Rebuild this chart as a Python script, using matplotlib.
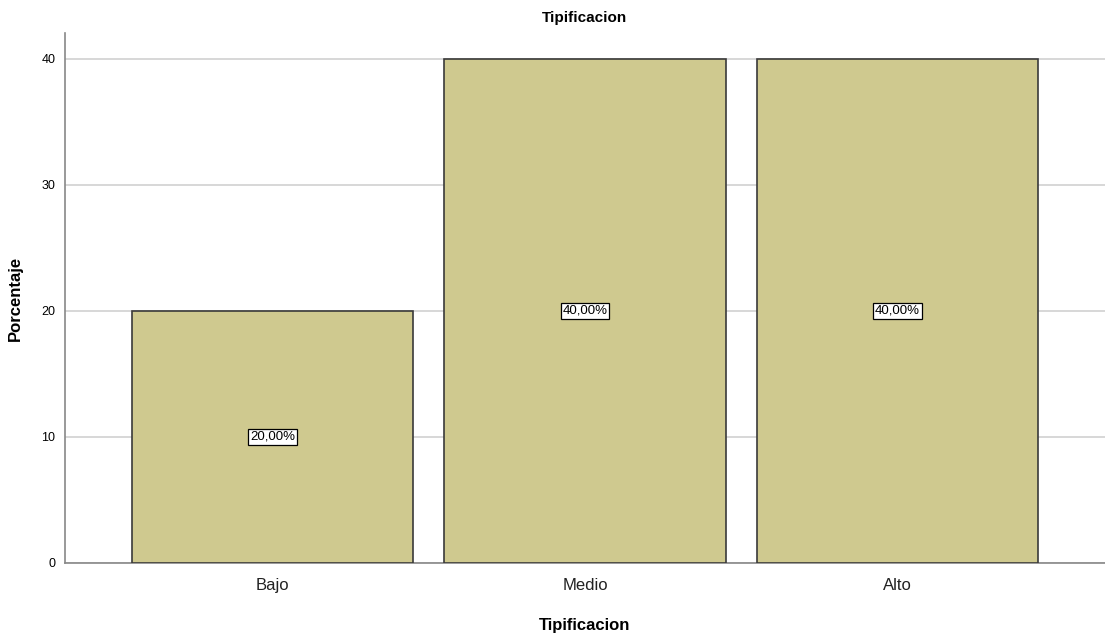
import matplotlib.pyplot as plt

# Data
categories = ['Bajo', 'Medio', 'Alto']
percent = [20, 40, 40]
labels = ['20,00%', '40,00%', '40,00%']
yticks = [0, 10, 20, 30, 40]

plt.rcParams['font.family'] = ['Liberation Sans', 'DejaVu Sans']

fig = plt.figure(figsize=(11.05, 6.41), dpi=100)
ax = fig.add_axes([0.0588, 0.1217, 0.9412, 0.8268])

x = range(len(categories))
bars = ax.bar(x, percent, width=0.9, color='#cfc98f', edgecolor='#3a3a3a', linewidth=1.2, zorder=3)

for bar, val, lab in zip(bars, percent, labels):
    ax.text(bar.get_x() + bar.get_width() / 2, val / 2, lab, ha='center', va='center',
            fontsize=9.5, zorder=4,
            bbox=dict(boxstyle='square,pad=0.15', facecolor='white', edgecolor='black', linewidth=0.9))

ax.set_xlim(-0.664, 2.664)
ax.set_ylim(0, 42.06)
ax.set_xticks(list(x))
ax.set_xticklabels(categories, fontsize=12, color='#222222')
ax.set_yticks(yticks)
ax.tick_params(axis='y', labelsize=9, length=0, pad=7)
ax.tick_params(axis='x', length=0, pad=11)
ax.yaxis.grid(True, color='#d4d4d4', linewidth=1.3, zorder=0)

for side in ['top', 'right']:
    ax.spines[side].set_visible(False)
for side in ['left', 'bottom']:
    ax.spines[side].set_color('#888888')
    ax.spines[side].set_linewidth(1.2)

ax.set_title('Tipificacion', fontsize=11, fontweight='bold', pad=8)
ax.set_xlabel('Tipificacion', fontsize=12, fontweight='bold', labelpad=18)
ax.set_ylabel('Porcentaje', fontsize=12, fontweight='bold', labelpad=13)

fig.savefig('out.png', dpi=100)
